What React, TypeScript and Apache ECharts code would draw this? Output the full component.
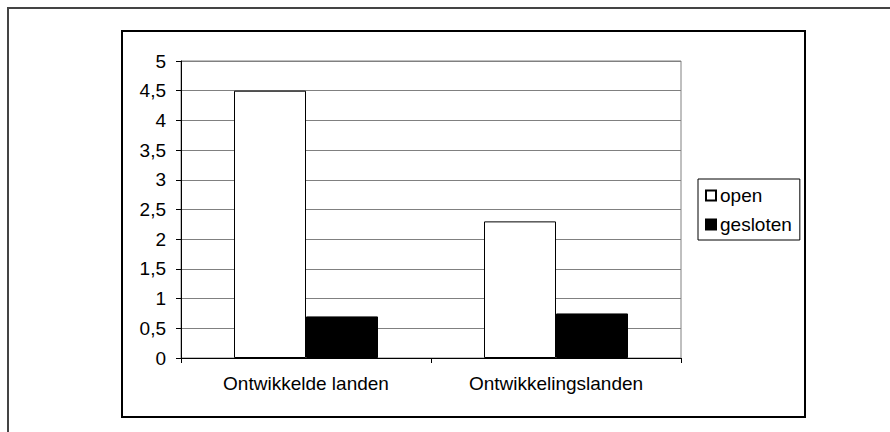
import React, { useEffect, useRef } from "react";
import * as echarts from "echarts";

const categories = ["Ontwikkelde landen", "Ontwikkelingslanden"];
const seriesNames = ["open", "gesloten"];
const openValues = [4.5, 2.3];
const geslotenValues = [0.7, 0.75];
const yTickLabels = ["0", "0,5", "1", "1,5", "2", "2,5", "3", "3,5", "4", "4,5", "5"];

const FONT = "'Liberation Sans', Arial, sans-serif";
const FS = 19;

export default function App() {
  const ref = useRef<HTMLDivElement>(null);
  useEffect(() => {
    if (!ref.current) return;
    const chart = echarts.init(ref.current, undefined, { renderer: "svg" });
    chart.setOption({
      animation: false,
      backgroundColor: "#fff",
      textStyle: { fontFamily: FONT, color: "#000" },
      graphic: [
        {
          type: "rect",
          shape: { x: 8, y: 8, width: 900, height: 500 },
          style: { fill: "none", stroke: "#444", lineWidth: 2 },
          z: 0,
        },
        {
          type: "rect",
          shape: { x: 122, y: 31, width: 683, height: 386 },
          style: { fill: "none", stroke: "#000", lineWidth: 2 },
          z: 0,
        },
      ],
      grid: {
        left: 181,
        top: 61,
        width: 500,
        height: 297,
        show: true,
        borderColor: "#808080",
        borderWidth: 1,
        backgroundColor: "transparent",
      },
      legend: {
        orient: "vertical",
        left: 698,
        top: 179,
        data: seriesNames,
        itemWidth: 10,
        itemHeight: 10,
        itemGap: 10,
        padding: [7, 8, 6, 7],
        borderColor: "#000",
        borderWidth: 1,
        icon: "rect",
        textStyle: { fontFamily: FONT, fontSize: FS, color: "#000", padding: [0, 0, 0, -1] },
      },
      xAxis: {
        type: "category",
        data: categories,
        axisLine: { lineStyle: { color: "#000", width: 1 } },
        axisTick: { show: true, length: 5, lineStyle: { color: "#000" } },
        axisLabel: { fontFamily: FONT, fontSize: FS, color: "#000", margin: 16 },
        splitLine: { show: false },
      },
      yAxis: {
        type: "value",
        min: 0,
        max: 5,
        interval: 0.5,
        axisLine: { show: true, lineStyle: { color: "#000", width: 1 } },
        axisTick: { show: true, length: 5, lineStyle: { color: "#000" } },
        axisLabel: {
          fontFamily: FONT,
          fontSize: FS,
          color: "#000",
          margin: 15,
          formatter: (v: number) => yTickLabels[Math.round(v / 0.5)] ?? String(v),
        },
        splitLine: { show: true, lineStyle: { color: "#808080", width: 1 } },
      },
      series: [
        {
          name: seriesNames[0],
          type: "bar",
          data: openValues,
          barWidth: 72,
          barGap: "0%",
          itemStyle: { color: "#fff", borderColor: "#000", borderWidth: 1 },
        },
        {
          name: seriesNames[1],
          type: "bar",
          data: geslotenValues,
          barWidth: 72,
          barGap: "0%",
          itemStyle: { color: "#000", borderColor: "#000", borderWidth: 1 },
        },
      ],
    });
    return () => chart.dispose();
  }, []);
  return (
    <div
      ref={ref}
      style={{ position: "fixed", left: 0, top: 0, width: 890, height: 432 }}
    />
  );
}
